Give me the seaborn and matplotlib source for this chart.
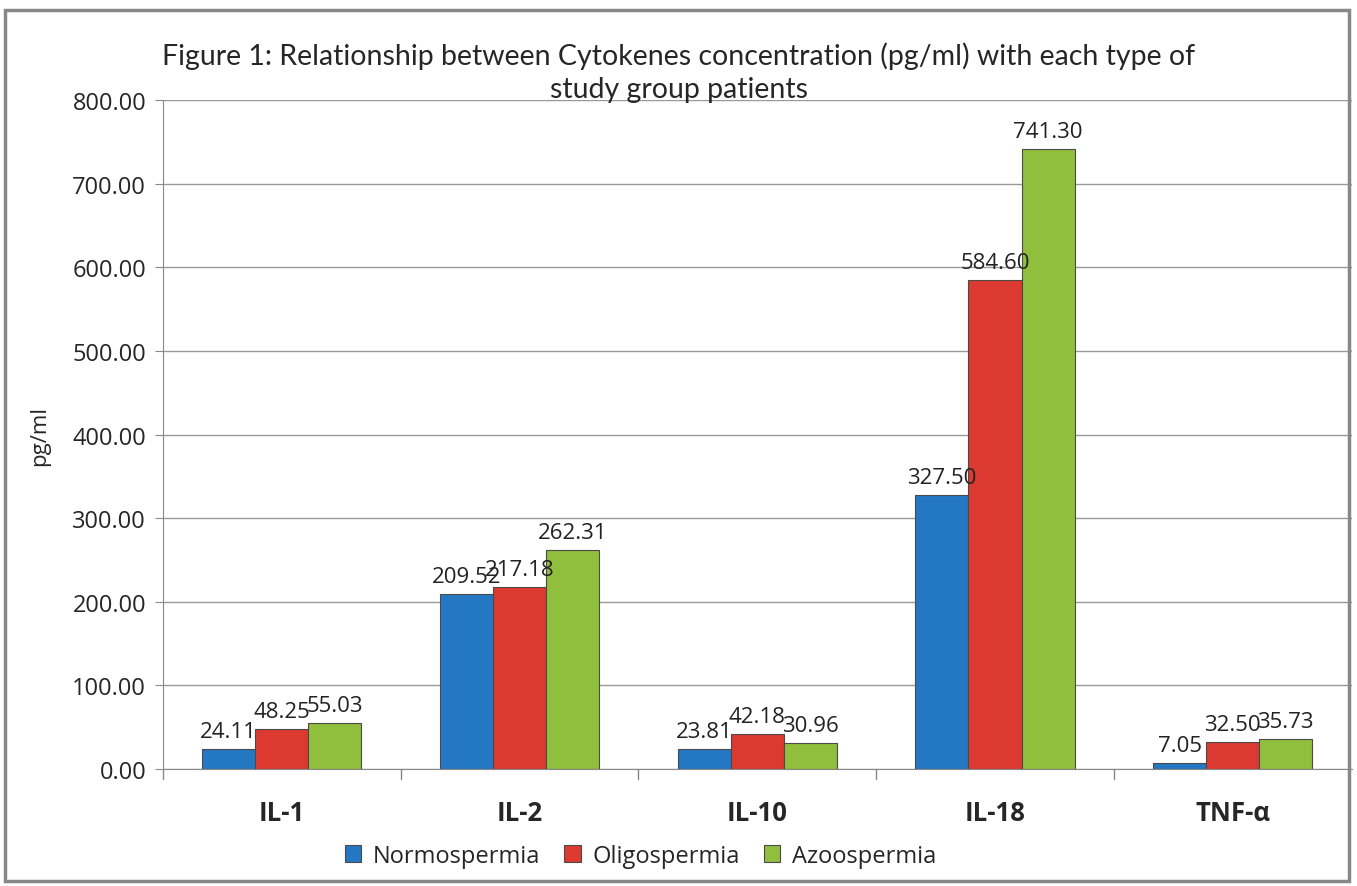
import pandas as pd
import seaborn as sns
import matplotlib.pyplot as plt
from matplotlib.patches import Rectangle

# data
cytokines = ['IL-1', 'IL-2', 'IL-10', 'IL-18', 'TNF-α']
groups = ['Normospermia', 'Oligospermia', 'Azoospermia']
normo = [24.11, 209.52, 23.81, 327.50, 7.05]
oligo = [48.25, 217.18, 42.18, 584.60, 32.50]
azoo = [55.03, 262.31, 30.96, 741.30, 35.73]
colors = ['#2477c2', '#dc3a30', '#8fbf3c']

df = pd.DataFrame({'cytokine': cytokines * 3,
                   'group': [g for g in groups for _ in cytokines],
                   'value': normo + oligo + azoo})

sns.set_style('white')
plt.rcParams['font.family'] = ['Open Sans', 'DejaVu Sans']

fig = plt.figure(figsize=(13.57, 8.87), dpi=100)
ax = fig.add_axes([0.120, 0.132, 0.876, 0.754])

sns.barplot(data=df, x='cytokine', y='value', hue='group', palette=colors,
            saturation=1, width=0.67, edgecolor='#4a4a4a', linewidth=0.8,
            ax=ax, legend=True)

for c in ax.containers:
    ax.bar_label(c, fmt='%.2f', padding=5, fontsize=16, color='#222222')

ax.set_ylim(0, 800)
ax.set_yticks(range(0, 801, 100))
ax.set_yticklabels([f'{v:.2f}' for v in range(0, 801, 100)], fontsize=17)
ax.set_xlim(-0.5, 4.5)
ax.set_xlabel('')
ax.set_ylabel('pg/ml', fontsize=16, labelpad=16)
ax.set_xticks(range(5))
ax.set_xticklabels(cytokines, fontsize=18.5, fontweight='bold')
ax.tick_params(axis='x', pad=22, length=0)
ax.tick_params(axis='y', length=6, color='#888888', left=True, pad=6)
ax.yaxis.grid(True, color='#999999', linewidth=1)
ax.set_axisbelow(True)
for s in ['top', 'right']:
    ax.spines[s].set_visible(False)
ax.spines['left'].set_color('#888888')
ax.spines['bottom'].set_color('#888888')
# category separator ticks
for x in [-0.5, 0.5, 1.5, 2.5, 3.5]:
    ax.plot([x, x], [0, -0.015], transform=ax.get_xaxis_transform(),
            color='#888888', lw=1, clip_on=False)

h, l = ax.get_legend_handles_labels()
ax.get_legend().remove()
fig.legend(h, l, loc='center', bbox_to_anchor=(0.472, 0.034), ncol=3,
           frameon=False, fontsize=17, handlelength=0.7, handleheight=0.7,
           handletextpad=0.5, columnspacing=1.0)

fig.text(0.500, 0.937, 'Figure 1: Relationship between Cytokenes concentration (pg/ml) with each type of',
         ha='center', va='center', fontsize=20.5, family=['Lato', 'DejaVu Sans'])
fig.text(0.500, 0.899, 'study group patients', ha='center', va='center',
         fontsize=20.5, family=['Lato', 'DejaVu Sans'])

# outer chart border
fig.patches.append(Rectangle((0.004, 0.006), 0.99, 0.982, transform=fig.transFigure,
                             fill=False, edgecolor='#888888', linewidth=2.5))

fig.savefig('out.png', dpi=100)
